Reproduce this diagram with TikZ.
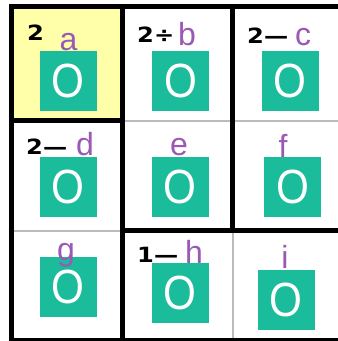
\documentclass[tikz,border=0pt]{standalone}
\usepackage{fontspec}
\setmainfont{Liberation Sans}
\newfontfamily\cluefont{DejaVu Sans}
\definecolor{cellgreen}{HTML}{1ABC9C}
\definecolor{letterpurple}{HTML}{9B59B6}
\definecolor{cageyellow}{HTML}{FFFFAA}
\definecolor{thingray}{HTML}{BBBBBB}
\newcommand{\bigO}{\scalebox{0.88}[1]{O}}
\newcommand{\cluetext}[1]{\scalebox{1.15}[1]{#1}}
\begin{document}
\begin{tikzpicture}[x=1pt,y=-1pt,
  thickline/.style={line width=5pt,line cap=rect,black},
  thinline/.style={line width=1.5pt,thingray},
  greensq/.style={fill=cellgreen,minimum width=57pt,minimum height=60pt,inner sep=0pt,
    text=white,font=\fontsize{48}{48}\selectfont},
  letter/.style={text=letterpurple,anchor=base,inner sep=0pt,font=\fontsize{32}{32}\selectfont},
  clue/.style={anchor=base west,inner sep=0pt,font=\cluefont\bfseries\fontsize{21}{21}\selectfont}]
\useasboundingbox (0,0) rectangle (338,341);
\clip (0,0) rectangle (338,341);
\fill[white] (0,0) rectangle (338,341);
% yellow single cage
\fill[cageyellow] (11,6) rectangle (122,120);
% thin lines inside cages
\draw[thinline] (122,121) -- (343,121);
\draw[thinline] (11,231) -- (122,231);
\draw[thinline] (233,230) -- (233,340);
% thick cage lines
\draw[thickline] (11,6) -- (343,6) -- (343,340) -- (11,340) -- cycle;
\draw[thickline] (122,6) -- (122,340);
\draw[thickline] (232,6) -- (232,230);
\draw[thickline] (11,120) -- (122,120);
\draw[thickline] (122,230) -- (343,230);
% green squares
\node[greensq] (sqa) at (68,81) {\bigO};
\node[greensq] (sqb) at (180.5,81) {\bigO};
\node[greensq] (sqc) at (290,81) {\bigO};
\node[greensq] (sqd) at (68,187) {\bigO};
\node[greensq] (sqe) at (180,187) {\bigO};
\node[greensq] (sqf) at (292.5,187) {\bigO};
\node[greensq] (sqg) at (68,287) {\bigO};
\node[greensq] (sqh) at (180,293) {\bigO};
\node[greensq] (sqi) at (286,299.5) {\bigO};
% letters
\node[letter] (la) at (68.5,50) {a};
\node[letter] (lb) at (187,45) {b};
\node[letter] (lc) at (303,45) {c};
\node[letter] (ld) at (85,155) {d};
\node[letter] (le) at (179,155) {e};
\node[letter] (lf) at (283,157) {f};
\node[letter] (lg) at (66,260) {g};
\node[letter] (lh) at (194,263) {h};
\node[letter] (li) at (285,268) {i};
% clues
\node[clue] (ca) at (27,40) {\cluetext{2}};
\node[clue] (cb) at (137,42) {\cluetext{2÷}};
\node[clue] (cc) at (247,43) {\cluetext{2—}};
\node[clue] (cd) at (26,154) {\cluetext{2—}};
\node[clue] (ch) at (137,262) {\cluetext{1—}};
\end{tikzpicture}
\end{document}
